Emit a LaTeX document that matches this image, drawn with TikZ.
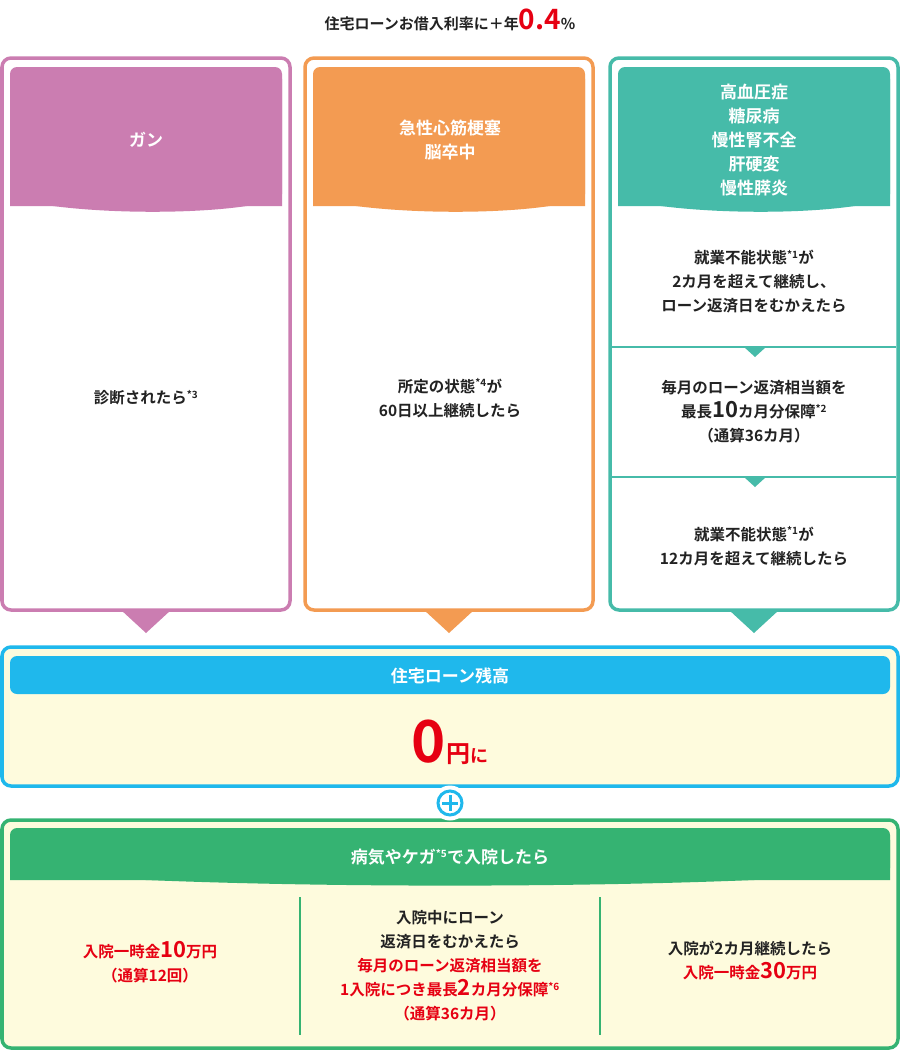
\documentclass[tikz,border=0pt]{standalone}
\usepackage{fontspec}
\setmainfont{Noto Sans CJK JP}[BoldFont={* Bold}]
\definecolor{pink}{HTML}{CB7DB1}
\definecolor{orng}{HTML}{F39B52}
\definecolor{teal2}{HTML}{46BBA9}
\definecolor{blu}{HTML}{1FB8EC}
\definecolor{grn}{HTML}{35B372}
\definecolor{cream}{HTML}{FEFBDD}
\definecolor{red2}{HTML}{E60012}
\definecolor{txt}{HTML}{222222}
\tikzset{
 frame/.style={line width=3.5pt,rounded corners=9pt},
 body/.style={font=\bfseries\fontsize{15.5}{24}\selectfont,text=txt,align=center},
 head/.style={font=\bfseries\fontsize{17}{24}\selectfont,text=white,align=center},
}
\newcommand{\sups}[1]{\textsuperscript{\fontsize{10}{10}\selectfont #1}}
\newcommand{\hdr}[5]{\fill[#5,rounded corners=7pt] (#1,#4+8) -- (#1,#3) -- (#2,#3) -- (#2,#4+8);
 \fill[#5,rounded corners=4pt] (#1,#3+8) -- (#1,#4) .. controls ({#1+(#2-#1)*0.25},#4+18) and ({#1+(#2-#1)*0.75},#4+18) .. (#2,#4) -- (#2,#3+8) -- cycle;}
\begin{document}
\begin{tikzpicture}[x=1pt,y=-1pt]
\useasboundingbox (0,0) rectangle (900,1050);
\node[font=\bfseries\fontsize{15}{16}\selectfont,text=txt] (title) at (450,20) {住宅ローンお借入利率に＋年{\color{red2}\fontsize{28}{28}\selectfont 0.4}\%};
% columns
\foreach \xa/\xb/\c in {2/290/pink,305/593/orng,610/898/teal2}{
 \draw[frame,\c,fill=white] (\xa,58) rectangle (\xb,610);
 \hdr{\xa+8}{\xb-8}{67}{198}{\c}
 \fill[\c] ({(\xa+\xb)/2-25},610) -- ({(\xa+\xb)/2+25},610) -- ({(\xa+\xb)/2},633) -- cycle;
}
\node[head] (h1) at (146,140) {ガン};
\node[head] (h2) at (450,140) {急性心筋梗塞\\脳卒中};
\node[head] (h3) at (754,140) {高血圧症\\糖尿病\\慢性腎不全\\肝硬変\\慢性膵炎};
\node[body] (b1) at (146,398) {診断されたら\sups{*3}};
\node[body] (b2) at (450,398) {所定の状態\sups{*4}が\\60日以上継続したら};
\node[body] (c1) at (754,282) {就業不能状態\sups{*1}が\\2カ月を超えて継続し、\\ローン返済日をむかえたら};
\node[body] (c2) at (754,412) {毎月のローン返済相当額を\\最長{\fontsize{22}{22}\selectfont 10}カ月分保障\sups{*2}\\（通算36カ月）};
\node[body] (c3) at (754,546) {就業不能状態\sups{*1}が\\12カ月を超えて継続したら};
\foreach \y in {347,477}{
 \draw[teal2,line width=1.5pt] (612,\y) -- (896,\y);
 \fill[teal2] (744,\y) -- (766,\y) -- (755,\y+10) -- cycle;}
% loan box
\draw[frame,blu,fill=cream] (2,647) rectangle (898,786);
\fill[blu,rounded corners=7pt] (10,656) rectangle (890,694);
\node[head] (lh) at (450,676) {住宅ローン残高};
\node[font=\bfseries,text=red2,inner sep=0pt] (zero) at (450,742) {{\fontsize{58}{58}\selectfont 0}{\fontsize{24}{24}\selectfont 円}{\fontsize{18}{18}\selectfont に}};
% hospital box
\draw[frame,grn,fill=cream] (2,820) rectangle (898,1048);
\hdr{10}{890}{828}{872}{grn}
\node[draw=white,line width=3pt,fill=white,circle,minimum size=32pt,inner sep=0pt] (ring) at (450,803) {};
\node[draw=blu,line width=3pt,fill=white,circle,minimum size=24pt,inner sep=0pt] (plus) at (450,803) {};
\draw[blu,line width=3pt] (plus.center) ++(-8,0) -- ++(16,0) (plus.center) ++(0,-8) -- ++(0,16);
\node[head] (gh) at (450,857) {病気やケガ\sups{*5}で入院したら};
\draw[grn,line width=1.5pt] (300,897) -- (300,1035) (600,897) -- (600,1035);
\node[body,text=red2] (g1) at (150,962) {入院一時金{\fontsize{22}{22}\selectfont 10}万円\\（通算12回）};
\node[body] (g2) at (450,966) {入院中にローン\\返済日をむかえたら\\{\color{red2}毎月のローン返済相当額を}\\{\color{red2}1入院につき最長{\fontsize{22}{22}\selectfont 2}カ月分保障\sups{*6}}\\{\color{red2}（通算36カ月）}};
\node[body] (g3) at (750,960) {入院が2カ月継続したら\\{\color{red2}入院一時金{\fontsize{22}{22}\selectfont 30}万円}};
\end{tikzpicture}
\end{document}
